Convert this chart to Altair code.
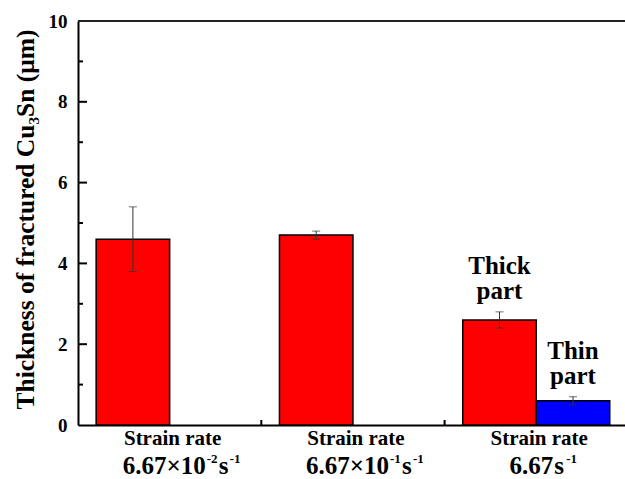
import altair as alt
import pandas as pd

# ---- data ----
groups = [1, 2, 3, 3]
parts = ["Thick", "Thick", "Thick", "Thin"]
values = [4.6, 4.7, 2.6, 0.6]
errors = [0.8, 0.1, 0.2, 0.1]
notes = ["", "", "Thick\npart", "Thin\npart"]

group_centers = [1, 2, 3]
label_line1 = ["Strain rate", "Strain rate", "Strain rate"]
label_base = ["6.67×10", "6.67×10", "6.67"]
label_exp = ["-2", "-1", ""]
unit_text = ["s", "s", "s"]
unit_exp = ["-1", "-1", "-1"]

y_major = [2, 4, 6, 8]
y_minor = [1, 3, 5, 7, 9]
x_ticks = [1.5, 2.5]

W, H = 547, 404
BW = 0.401
FONT = "'Liberation Serif', 'Times New Roman', 'DejaVu Serif', serif"

df = pd.DataFrame({"group": groups, "part": parts, "value": values,
                   "err": errors, "note": notes})
df["x0"] = [g - BW if p == "Thick" else g for g, p in zip(df.group, df.part)]
df["x1"] = [g if p == "Thick" else g + BW for g, p in zip(df.group, df.part)]
df["xc"] = (df.x0 + df.x1) / 2
df["lo"] = df.value - df.err
df["hi"] = df.value + df.err

xscale = alt.Scale(domain=[0.5, 0.5 + W / 183.3], nice=False, zero=False)
yscale = alt.Scale(domain=[0, 10], nice=False)

base = alt.Chart(df)

bars = base.mark_bar(stroke="black", strokeWidth=1.5).encode(
    x=alt.X("x0:Q", scale=xscale,
            axis=alt.Axis(labels=False, ticks=False, grid=False, title=None,
                          domainColor="black", domainWidth=2)),
    x2="x1:Q",
    y=alt.Y("value:Q", scale=yscale,
            axis=alt.Axis(values=[0, 2, 4, 6, 8, 10], ticks=False, grid=False,
                          domainColor="black", domainWidth=2,
                          labelFont=FONT, labelFontWeight="bold",
                          labelFontSize=19, labelColor="black", labelPadding=11,
                          title="Thickness of fractured Cu₃Sn (μm)",
                          titleFont=FONT, titleFontWeight="bold",
                          titleFontSize=25.5, titleColor="black",
                          titleX=-53, titleY=198, titleAngle=-90,
                          titleBaseline="middle", titleAlign="center")),
    y2=alt.datum(0),
    color=alt.Color("part:N", scale=alt.Scale(domain=["Thick", "Thin"],
                                              range=["#ff0000", "#0000ff"]),
                    legend=None),
)

err_rule = base.mark_rule(color="#333333", strokeWidth=1).encode(
    x="xc:Q", y="lo:Q", y2="hi:Q")
err_cap_hi = base.mark_tick(orient="horizontal", size=8, thickness=1,
                            color="#333333").encode(x="xc:Q", y="hi:Q")
err_cap_lo = base.mark_tick(orient="horizontal", size=8, thickness=1,
                            color="#333333").encode(x="xc:Q", y="lo:Q")

notes_layer = base.transform_filter("datum.note != ''").mark_text(
    font=FONT, fontWeight="bold", fontSize=25, lineBreak="\n", lineHeight=25,
    align="center", baseline="alphabetic", dy=-37.5, color="black"
).encode(x="xc:Q", y="hi:Q", text="note:N")

lab_df = pd.DataFrame({"c": group_centers, "l1": label_line1,
                       "b": label_base, "e": label_exp,
                       "u": unit_text, "ue": unit_exp})
lab = alt.Chart(lab_df)
lab1 = lab.mark_text(
    font=FONT, fontWeight="bold", fontSize=21, align="center",
    baseline="alphabetic", dx=3, color="black"
).encode(x="c:Q", y=alt.value(H + 20), text="l1:N")

BIG = dict(font=FONT, fontWeight="bold", fontSize=25, baseline="alphabetic",
           color="black")
SUP = dict(font=FONT, fontWeight="bold", fontSize=13, baseline="alphabetic",
           color="black", align="left")
Y_MAIN = alt.value(H + 49)
Y_SUP = alt.value(H + 38)

with_exp = lab.transform_filter("datum.e != ''")
no_exp = lab.transform_filter("datum.e == ''")

l2a = with_exp.mark_text(align="right", dx=36, **BIG).encode(
    x="c:Q", y=Y_MAIN, text="b:N")
l2b = with_exp.mark_text(dx=37, **SUP).encode(x="c:Q", y=Y_SUP, text="e:N")
l2c = with_exp.mark_text(align="left", dx=49, **BIG).encode(
    x="c:Q", y=Y_MAIN, text="u:N")
l2d = with_exp.mark_text(dx=60, **SUP).encode(x="c:Q", y=Y_SUP, text="ue:N")
l3a = no_exp.mark_text(align="right", dx=17, **BIG).encode(
    x="c:Q", y=Y_MAIN, text="b:N")
l3b = no_exp.mark_text(align="left", dx=18, **BIG).encode(
    x="c:Q", y=Y_MAIN, text="u:N")
l3c = no_exp.mark_text(dx=30, **SUP).encode(x="c:Q", y=Y_SUP, text="ue:N")

maj_df = pd.DataFrame({"v": y_major})
min_df = pd.DataFrame({"v": y_minor})
xt_df = pd.DataFrame({"v": x_ticks})
ymaj = alt.Chart(maj_df).mark_rule(color="black", strokeWidth=2).encode(
    y="v:Q", x=alt.value(0), x2=alt.value(9))
ymin = alt.Chart(min_df).mark_rule(color="black", strokeWidth=2).encode(
    y="v:Q", x=alt.value(0), x2=alt.value(5))
xt = alt.Chart(xt_df).mark_rule(color="black", strokeWidth=2).encode(
    x="v:Q", y=alt.value(H), y2=alt.value(H - 5))
top = alt.Chart(maj_df).mark_rule(color="#222222", strokeWidth=2).encode(
    x=alt.value(0), x2=alt.value(W), y=alt.value(0))

chart = alt.layer(
    bars, err_rule, err_cap_hi, err_cap_lo, notes_layer, lab1,
    l2a, l2b, l2c, l2d, l3a, l3b, l3c,
    ymaj, ymin, xt, top
).properties(
    width=W, height=H,
    autosize=alt.AutoSizeParams(type="none"),
    padding={"left": 78, "top": 21, "right": 0, "bottom": 54},
).configure_view(stroke=None).configure(background="white")

chart.save("out.html", embed_options={"renderer": "svg", "actions": False})
